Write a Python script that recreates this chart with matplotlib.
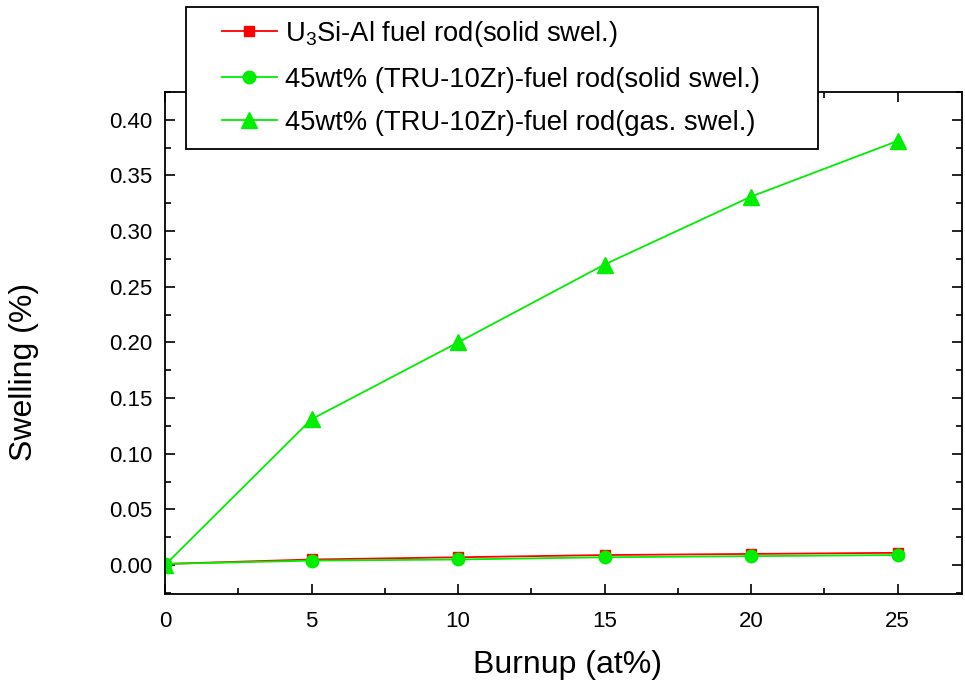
import matplotlib
matplotlib.use('Agg')
import matplotlib.pyplot as plt
from matplotlib import ticker
from matplotlib.patches import Rectangle

plt.rcParams['font.family'] = ['Liberation Sans', 'DejaVu Sans']
plt.rcParams['mathtext.fontset'] = 'custom'
plt.rcParams['mathtext.rm'] = 'Liberation Sans'
plt.rcParams['mathtext.it'] = 'Liberation Sans'

burnup = [0, 5, 10, 15, 20, 25]
u3si_solid = [0.001, 0.005, 0.007, 0.009, 0.010, 0.011]
tru_solid = [0.001, 0.004, 0.005, 0.007, 0.008, 0.009]
tru_gas = [0.0, 0.131, 0.200, 0.270, 0.331, 0.381]

labels = [r'U$_3$Si-Al fuel rod(solid swel.)',
          '45wt% (TRU-10Zr)-fuel rod(solid swel.)',
          '45wt% (TRU-10Zr)-fuel rod(gas. swel.)']

W, H = 965, 688
fig = plt.figure(figsize=(9.65, 6.88), dpi=100)
ax = fig.add_axes([165 / W, 1 - 594 / H, (962 - 165) / W, (594 - 92) / H])

ax.plot(burnup, u3si_solid, color='red', lw=1.3, marker='s', ms=6.5,
        mfc='red', mec='red', label=labels[0])
ax.plot(burnup, tru_solid, color='#00ee00', lw=1.3, marker='o', ms=9,
        mfc='#00ee00', mec='#00ee00', label=labels[1])
ax.plot(burnup, tru_gas, color='#00ee00', lw=1.3, marker='^', ms=11,
        mfc='#00ee00', mec='#00ee00', label=labels[2])

ax.set_xlim(0, 27.2)
ax.set_ylim(-0.026, 0.425)
ax.set_xticks([0, 5, 10, 15, 20, 25])
ax.set_yticks([0.0, 0.05, 0.1, 0.15, 0.2, 0.25, 0.3, 0.35, 0.4])
ax.yaxis.set_major_formatter(ticker.FormatStrFormatter('%.2f'))
ax.xaxis.set_minor_locator(ticker.MultipleLocator(2.5))
ax.yaxis.set_minor_locator(ticker.MultipleLocator(0.025))
ax.tick_params(which='both', direction='in', top=True, right=True,
               labelsize=16, width=1.2)
ax.tick_params(axis='y', pad=9)
ax.tick_params(axis='x', pad=12)
ax.tick_params(which='major', length=7)
ax.tick_params(which='minor', length=4)
for s in ax.spines.values():
    s.set_linewidth(1.3)

ax.set_xlabel('Burnup (at%)', fontsize=23)
ax.xaxis.set_label_coords(0.505, -0.112)
ax.set_ylabel('Swelling (%)', fontsize=23)
ax.yaxis.set_label_coords(-0.158, 0.442)

# legend box sits over the top spine
box = Rectangle((186 / W, 1 - 149 / H), (818 - 186) / W, (149 - 7) / H,
                transform=fig.transFigure, facecolor='white',
                edgecolor='black', linewidth=1.3, zorder=4)
fig.patches.append(box)

leg = fig.legend(loc='upper left', bbox_to_anchor=(222 / W, 1 - 19 / H),
                 fontsize=19.7, frameon=False, handlelength=2.0,
                 handletextpad=0.3, borderpad=0, labelspacing=0.64,
                 borderaxespad=0)
leg.set_zorder(5)

fig.savefig('out.png', dpi=100)
